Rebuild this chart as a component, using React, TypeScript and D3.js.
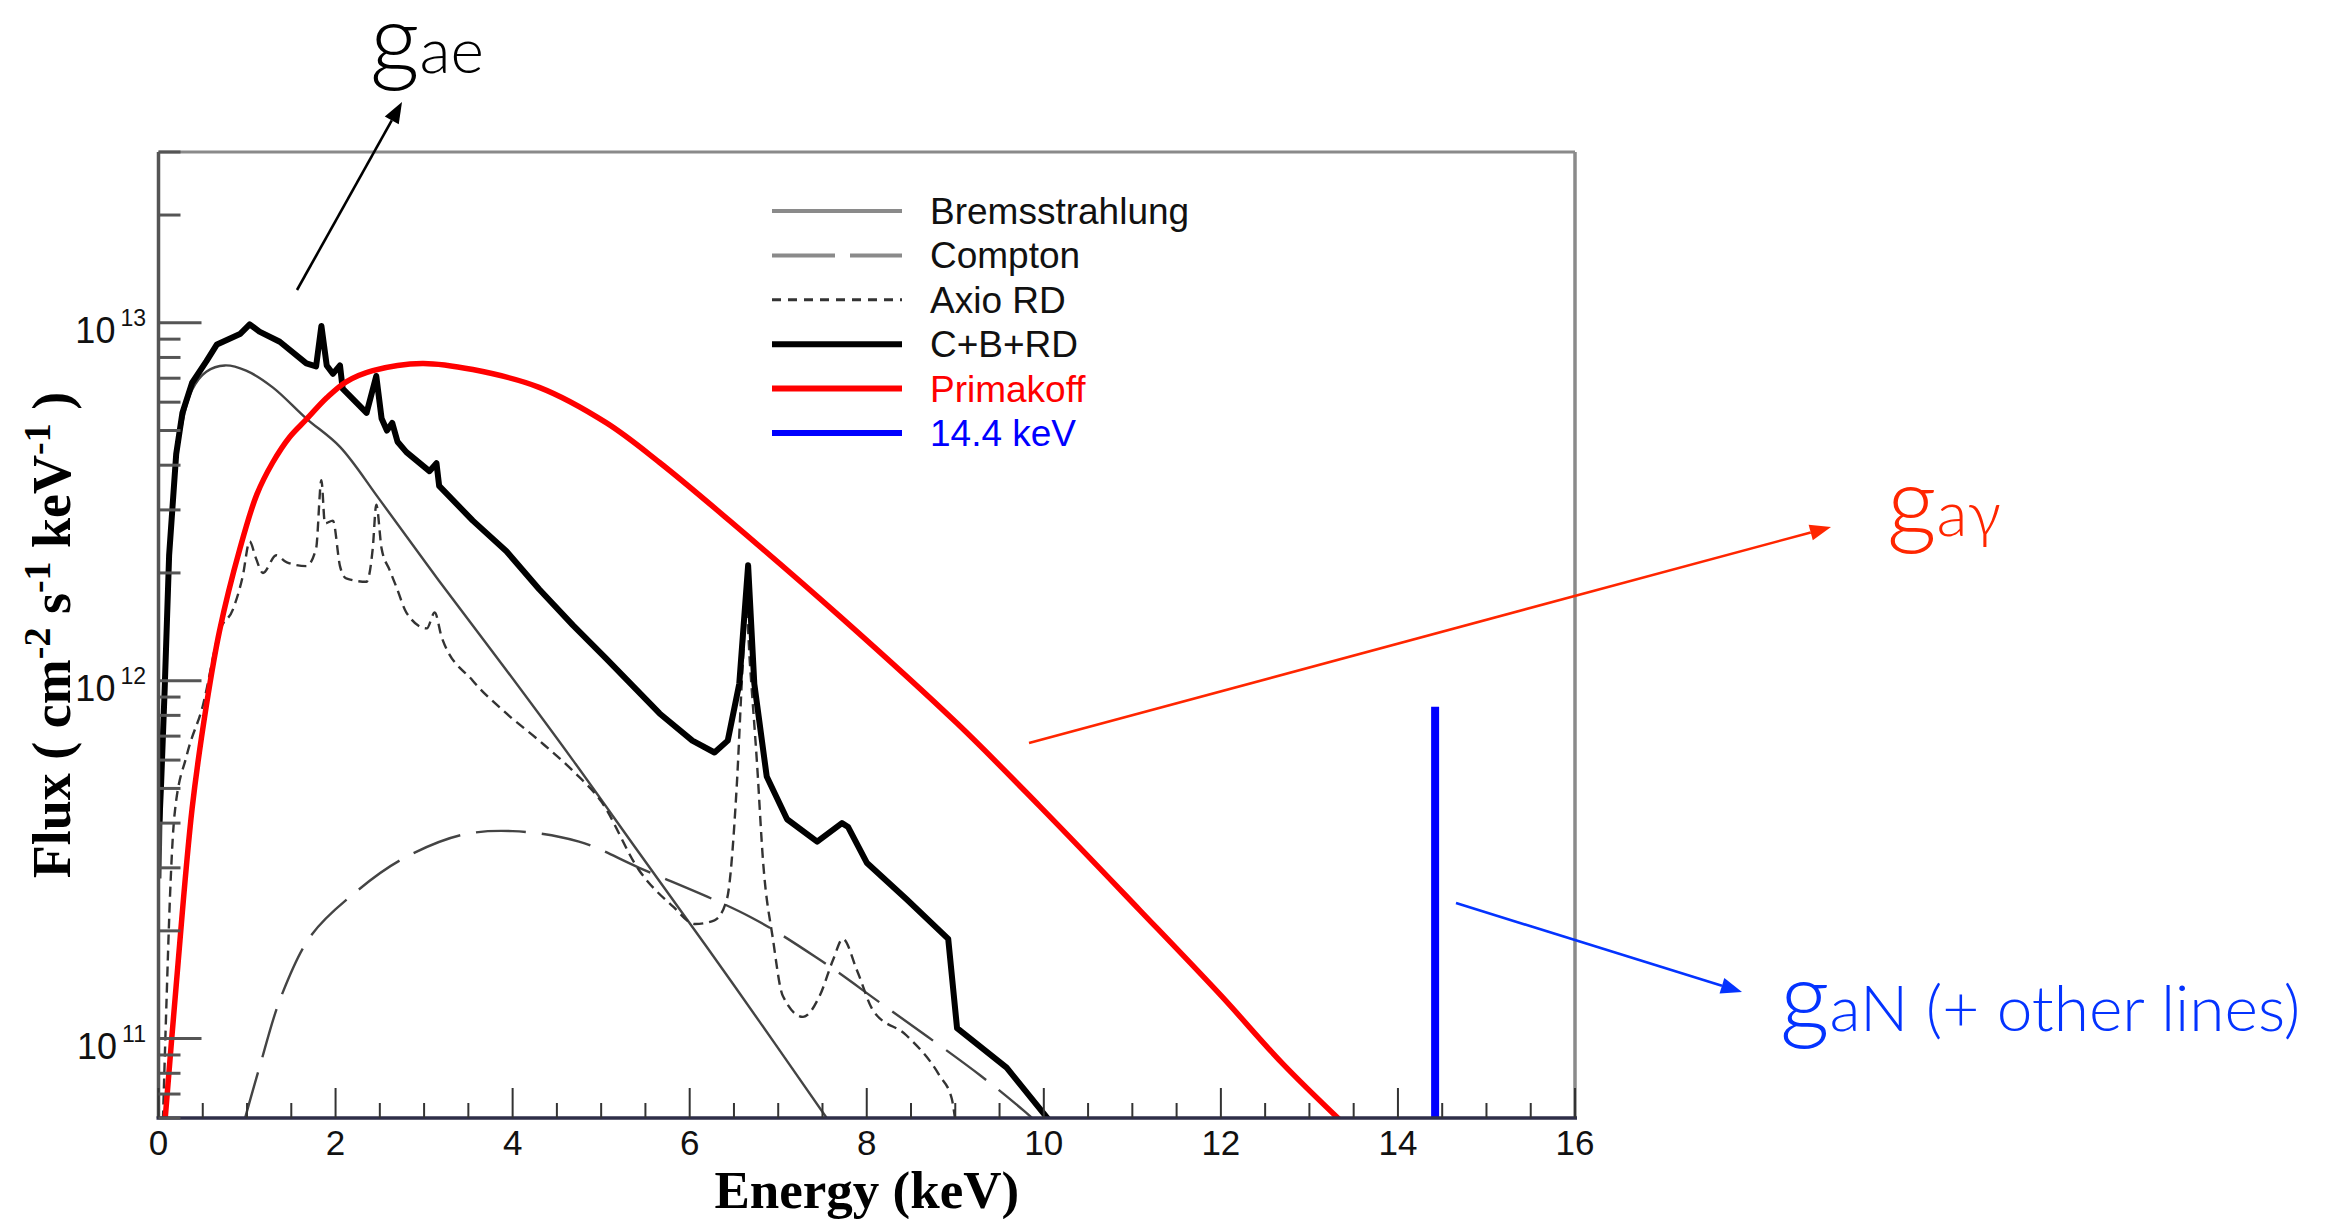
import * as d3 from "d3";

// energy axis (keV) and flux axis (cm^-2 s^-1 keV^-1)
const energyTicks = [0, 2, 4, 6, 8, 10, 12, 14, 16];
const fluxDecades = [11, 12, 13];

const bremsEnergy = [0.02, 0.06, 0.12, 0.24, 0.38, 0.54, 0.75, 0.99, 1.29, 1.67, 2.05, 2.5, 3.17, 3.93, 4.68, 5.43, 6.5, 7.6];
const bremsFlux = [2.8e11, 8.9e11, 2.24e12, 4.8e12, 6.5e12, 7.3e12, 7.6e12, 7.35e12, 6.6e12, 5.4e12, 4.5e12, 3.2e12, 1.9e12, 1.07e12, 6.0e11, 3.3e11, 1.41e11, 5.75e10];

const comptonEnergy = [0.97, 1.14, 1.39, 1.73, 2.23, 2.74, 3.41, 4.0, 4.75, 5.43, 6.68, 7.47, 8.15, 9.28, 9.77, 9.95];
const comptonFlux = [5.9e10, 8.3e10, 1.32e11, 1.95e11, 2.57e11, 3.16e11, 3.7e11, 3.8e11, 3.55e11, 3.0e11, 2.19e11, 1.66e11, 1.26e11, 7.9e10, 6.3e10, 5.75e10];

const axioEnergy = [0.05, 0.09, 0.13, 0.18, 0.32, 0.5, 0.69, 0.84, 0.95, 1.03, 1.1, 1.18, 1.33, 1.45, 1.67, 1.78, 1.84, 1.88, 1.97, 2.05, 2.12, 2.35, 2.42, 2.46, 2.52, 2.61, 2.69, 2.8, 3.03, 3.12, 3.2, 3.55, 3.93, 4.3, 4.68, 5.0, 5.43, 5.81, 6.06, 6.28, 6.42, 6.53, 6.6, 6.64, 6.68, 6.76, 6.83, 6.94, 7.05, 7.28, 7.47, 7.62, 7.73, 7.89, 8.07, 8.45, 8.82, 8.96, 9.0];
const axioFlux = [5.9e10, 1.26e11, 2.5e11, 4.2e11, 6.2e11, 8.5e11, 1.38e12, 1.58e12, 1.95e12, 2.45e12, 2.2e12, 2.0e12, 2.24e12, 2.14e12, 2.09e12, 2.34e12, 3.63e12, 2.75e12, 2.8e12, 2.09e12, 1.93e12, 1.89e12, 2.34e12, 3.1e12, 2.34e12, 2.04e12, 1.82e12, 1.55e12, 1.4e12, 1.55e12, 1.32e12, 1.0e12, 8.1e11, 6.8e11, 5.6e11, 4.6e11, 2.95e11, 2.34e11, 2.09e11, 2.14e11, 2.45e11, 5.0e11, 1.12e12, 1.58e12, 1.12e12, 5.9e11, 3.1e11, 1.9e11, 1.32e11, 1.15e11, 1.32e11, 1.66e11, 1.9e11, 1.55e11, 1.2e11, 1.02e11, 7.9e10, 6.8e10, 5.9e10];

const totalEnergy = [0.01, 0.03, 0.07, 0.12, 0.2, 0.27, 0.38, 0.54, 0.66, 0.92, 1.03, 1.14, 1.37, 1.67, 1.78, 1.84, 1.9, 1.97, 2.05, 2.08, 2.35, 2.46, 2.52, 2.58, 2.64, 2.7, 2.8, 3.06, 3.14, 3.17, 3.55, 3.93, 4.3, 4.68, 5.06, 5.66, 6.03, 6.28, 6.43, 6.56, 6.66, 6.73, 6.87, 7.1, 7.44, 7.72, 7.79, 8.0, 8.45, 8.92, 9.02, 9.58, 10.1];
const totalFlux = [4.0e11, 5.2e11, 9.5e11, 2.24e12, 4.3e12, 5.6e12, 6.8e12, 7.8e12, 8.7e12, 9.3e12, 9.9e12, 9.45e12, 8.85e12, 7.7e12, 7.55e12, 9.8e12, 7.6e12, 7.2e12, 7.6e12, 6.55e12, 5.6e12, 7.1e12, 5.4e12, 5.0e12, 5.25e12, 4.65e12, 4.35e12, 3.85e12, 4.05e12, 3.5e12, 2.8e12, 2.3e12, 1.8e12, 1.43e12, 1.15e12, 8.1e11, 6.8e11, 6.3e11, 6.8e11, 9.8e11, 2.1e12, 9.8e11, 5.4e11, 4.1e11, 3.55e11, 4.0e11, 3.9e11, 3.1e11, 2.45e11, 1.9e11, 1.07e11, 8.3e10, 5.75e10];

const primakoffEnergy = [0.07, 0.2, 0.38, 0.54, 0.69, 0.92, 1.11, 1.29, 1.48, 1.67, 1.9, 2.12, 2.42, 2.98, 3.55, 4.3, 5.06, 5.66, 6.45, 7.7, 9.02, 9.95, 11.08, 12.0, 12.7, 13.4];
const primakoffFlux = [5.75e10, 1.41e11, 4.4e11, 8.5e11, 1.38e12, 2.34e12, 3.31e12, 4.07e12, 4.79e12, 5.37e12, 6.17e12, 6.84e12, 7.35e12, 7.7e12, 7.4e12, 6.6e12, 5.25e12, 4.07e12, 2.8e12, 1.51e12, 7.6e11, 4.47e11, 2.29e11, 1.32e11, 8.5e10, 5.75e10];

const lineEnergy = [14.42, 14.42];
const lineFlux = [5.0e10, 8.45e11];

const legendLabels = ["Bremsstrahlung", "Compton", "Axio RD", "C+B+RD", "Primakoff", "14.4 keV"];

type Pt = [number, number];
const zip = (e: number[], f: number[]): Pt[] => e.map((v, i) => [v, f[i]]);

const W = 2329;
const H = 1219;
const frame = { left: 158.5, right: 1575, top: 152, bottom: 1118 };

const x = d3.scaleLinear().domain([0, 16]).range([frame.left, frame.right]);
const y = d3.scaleLog().domain([6e10, 3e13]).range([frame.bottom, frame.top]);

const straight = d3.line<Pt>().x((d) => x(d[0])).y((d) => y(d[1]));
const monotone = d3
  .line<Pt>()
  .x((d) => x(d[0]))
  .y((d) => y(d[1]))
  .curve(d3.curveMonotoneX);
const smooth = d3
  .line<Pt>()
  .x((d) => x(d[0]))
  .y((d) => y(d[1]))
  .curve(d3.curveCatmullRom.alpha(0.5));

const series = [
  { label: legendLabels[0], pts: zip(bremsEnergy, bremsFlux), gen: smooth, stroke: "#444", width: 2.4, dash: "", legStroke: "#8a8a8a", legWidth: 4, legDash: "", text: "#111" },
  { label: legendLabels[1], pts: zip(comptonEnergy, comptonFlux), gen: smooth, stroke: "#444", width: 2.4, dash: "50 16", legStroke: "#8a8a8a", legWidth: 4, legDash: "63 15", text: "#111" },
  { label: legendLabels[2], pts: zip(axioEnergy, axioFlux), gen: monotone, stroke: "#333", width: 2.4, dash: "10 6", legStroke: "#333", legWidth: 3, legDash: "9 7", text: "#111" },
  { label: legendLabels[3], pts: zip(totalEnergy, totalFlux), gen: straight, stroke: "#000", width: 6, dash: "", legStroke: "#000", legWidth: 6, legDash: "", text: "#111" },
  { label: legendLabels[4], pts: zip(primakoffEnergy, primakoffFlux), gen: smooth, stroke: "#ff0000", width: 5.5, dash: "", legStroke: "#ff0000", legWidth: 6, legDash: "", text: "#ff0000" },
  { label: legendLabels[5], pts: zip(lineEnergy, lineFlux), gen: straight, stroke: "#0000ff", width: 8, dash: "", legStroke: "#0000ff", legWidth: 6, legDash: "", text: "#0000ff" },
];

const xMinor = d3.range(0, 16.01, 0.5).filter((v) => v % 2 !== 0);
const yMinor: number[] = [];
for (let e = 10; e <= 13; e++) {
  for (let k = 2; k <= 9; k++) {
    const v = k * Math.pow(10, e);
    if (v >= 6e10 && v <= 3e13) yMinor.push(v);
  }
}

const sansTick = "'Liberation Sans', Arial, Helvetica, sans-serif";
const serifTitle = "'Liberation Serif', 'Times New Roman', serif";
const lightFont = "Lato, 'Open Sans', sans-serif";

function Arrow({ x1, y1, x2, y2, color }: { x1: number; y1: number; x2: number; y2: number; color: string }) {
  const a = Math.atan2(y2 - y1, x2 - x1);
  const len = 21;
  const half = 8;
  const bx = x2 - len * Math.cos(a);
  const by = y2 - len * Math.sin(a);
  const p1 = [bx + half * Math.sin(a), by - half * Math.cos(a)];
  const p2 = [bx - half * Math.sin(a), by + half * Math.cos(a)];
  return (
    <g>
      <line x1={x1} y1={y1} x2={bx} y2={by} stroke={color} strokeWidth={2.6} />
      <polygon points={`${x2},${y2} ${p1[0]},${p1[1]} ${p2[0]},${p2[1]}`} fill={color} />
    </g>
  );
}

export default function App() {
  const legX0 = 772;
  const legX1 = 902;
  const legY0 = 211;
  const legStep = 44.4;

  return (
    <div style={{ position: "absolute", left: 0, top: 0 }}>
      <style>{`body{margin:0}`}</style>
      <svg width={W} height={H} style={{ display: "block", background: "#fff" }}>
        <defs>
          <clipPath id="plot">
            <rect x={frame.left} y={frame.top} width={frame.right - frame.left} height={frame.bottom - frame.top} />
          </clipPath>
        </defs>

        {/* curves */}
        <g clipPath="url(#plot)" fill="none" strokeLinejoin="round">
          {series.map((s) => (
            <path
              key={s.label}
              d={s.gen(s.pts) ?? ""}
              stroke={s.stroke}
              strokeWidth={s.width}
              strokeDasharray={s.dash || undefined}
            />
          ))}
        </g>

        {/* frame */}
        <line x1={frame.left} x2={frame.right} y1={frame.top} y2={frame.top} stroke="#8a8a8a" strokeWidth={3} />
        <line x1={frame.right} x2={frame.right} y1={frame.top} y2={frame.bottom} stroke="#8a8a8a" strokeWidth={3.5} />
        <line x1={frame.left} x2={frame.left} y1={frame.top} y2={frame.bottom} stroke="#555" strokeWidth={3.5} />
        <line x1={frame.left - 2} x2={frame.right + 2} y1={frame.bottom} y2={frame.bottom} stroke="#2e2e48" strokeWidth={3.5} />

        {/* x ticks */}
        {energyTicks.map((t) => (
          <g key={`xt${t}`}>
            <line x1={x(t)} x2={x(t)} y1={frame.bottom} y2={frame.bottom - 30} stroke="#333" strokeWidth={2} />
            <text x={x(t)} y={1155} textAnchor="middle" fontFamily={sansTick} fontSize={35} fill="#111">
              {t}
            </text>
          </g>
        ))}
        {xMinor.map((t) => (
          <line key={`xm${t}`} x1={x(t)} x2={x(t)} y1={frame.bottom} y2={frame.bottom - 15} stroke="#333" strokeWidth={2} />
        ))}

        {/* y ticks */}
        {fluxDecades.map((e) => {
          const v = Math.pow(10, e);
          return (
            <g key={`yt${e}`}>
              <line x1={frame.left} x2={frame.left + 43} y1={y(v)} y2={y(v)} stroke="#555" strokeWidth={3} />
              <text x={146} y={y(v) + 20} textAnchor="end" fontFamily={sansTick} fontSize={36} fill="#111">
                10
                <tspan dx={5} dy={-17} fontSize={23}>
                  {e}
                </tspan>
              </text>
            </g>
          );
        })}
        {yMinor.map((v) => (
          <line key={`ym${v}`} x1={frame.left} x2={frame.left + 22} y1={y(v)} y2={y(v)} stroke="#555" strokeWidth={3} />
        ))}

        {/* axis titles */}
        <text x={x(8)} y={1208} textAnchor="middle" fontFamily={serifTitle} fontWeight="bold" fontSize={53} fill="#000">
          Energy (keV)
        </text>
        <text
          transform={`translate(70, ${(frame.top + frame.bottom) / 2}) rotate(-90)`}
          textAnchor="middle"
          fontFamily={serifTitle}
          fontWeight="bold"
          fontSize={54}
          fill="#000"
        >
          Flux ( cm
          <tspan dy={-20} fontSize={38}>-2</tspan>
          <tspan dy={20}> s</tspan>
          <tspan dy={-20} fontSize={38}>-1</tspan>
          <tspan dy={20}> keV</tspan>
          <tspan dy={-20} fontSize={38}>-1</tspan>
          <tspan dy={20}> )</tspan>
        </text>

        {/* legend */}
        {series.map((s, i) => {
          const ly = legY0 + i * legStep;
          return (
            <g key={`lg${s.label}`}>
              <line x1={legX0} x2={legX1} y1={ly} y2={ly} stroke={s.legStroke} strokeWidth={s.legWidth} strokeDasharray={s.legDash || undefined} />
              <text x={930} y={ly + 13} fontFamily={sansTick} fontSize={37} fill={s.text}>
                {s.label}
              </text>
            </g>
          );
        })}

        {/* annotations */}
        <Arrow x1={297} y1={290} x2={402} y2={102} color="#000" />
        <text x={370} y={73} fontFamily={lightFont} fontWeight={300} fill="#000">
          <tspan fontSize={97}>g</tspan>
          <tspan fontSize={64}>ae</tspan>
        </text>

        <Arrow x1={1029} y1={743} x2={1831} y2={527} color="#ff2600" />
        <text x={1887} y={536} fontFamily={lightFont} fontWeight={300} fill="#ff2600">
          <tspan fontSize={97}>g</tspan>
          <tspan fontSize={64}>aγ</tspan>
        </text>

        <Arrow x1={1456} y1={903} x2={1742} y2={992} color="#0433ff" />
        <text x={1780} y={1031} fontFamily={lightFont} fontWeight={300} fill="#0433ff">
          <tspan fontSize={97}>g</tspan>
          <tspan fontSize={64}>aN (+ other lines)</tspan>
        </text>
      </svg>
    </div>
  );
}
